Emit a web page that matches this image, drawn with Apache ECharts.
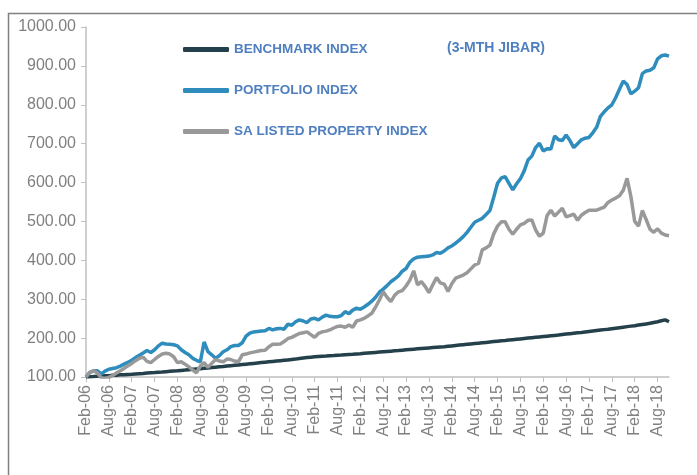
<!DOCTYPE html>
<html><head><meta charset="utf-8">
<script src="https://cdn.jsdelivr.net/npm/echarts@6/dist/echarts.min.js"></script>
<style>html,body{margin:0;padding:0;background:#fff}#c{width:697px;height:475px}</style>
</head><body><div id="c"></div>
<script>
const categories = [
'Feb-06','Mar-06','Apr-06','May-06','Jun-06','Jul-06','Aug-06','Sep-06','Oct-06','Nov-06','Dec-06',
'Jan-07','Feb-07','Mar-07','Apr-07','May-07','Jun-07','Jul-07','Aug-07','Sep-07','Oct-07','Nov-07','Dec-07',
'Jan-08','Feb-08','Mar-08','Apr-08','May-08','Jun-08','Jul-08','Aug-08','Sep-08','Oct-08','Nov-08','Dec-08',
'Jan-09','Feb-09','Mar-09','Apr-09','May-09','Jun-09','Jul-09','Aug-09','Sep-09','Oct-09','Nov-09','Dec-09',
'Jan-10','Feb-10','Mar-10','Apr-10','May-10','Jun-10','Jul-10','Aug-10','Sep-10','Oct-10','Nov-10','Dec-10',
'Jan-11','Feb-11','Mar-11','Apr-11','May-11','Jun-11','Jul-11','Aug-11','Sep-11','Oct-11','Nov-11','Dec-11',
'Jan-12','Feb-12','Mar-12','Apr-12','May-12','Jun-12','Jul-12','Aug-12','Sep-12','Oct-12','Nov-12','Dec-12',
'Jan-13','Feb-13','Mar-13','Apr-13','May-13','Jun-13','Jul-13','Aug-13','Sep-13','Oct-13','Nov-13','Dec-13',
'Jan-14','Feb-14','Mar-14','Apr-14','May-14','Jun-14','Jul-14','Aug-14','Sep-14','Oct-14','Nov-14','Dec-14',
'Jan-15','Feb-15','Mar-15','Apr-15','May-15','Jun-15','Jul-15','Aug-15','Sep-15','Oct-15','Nov-15','Dec-15',
'Jan-16','Feb-16','Mar-16','Apr-16','May-16','Jun-16','Jul-16','Aug-16','Sep-16','Oct-16','Nov-16','Dec-16',
'Jan-17','Feb-17','Mar-17','Apr-17','May-17','Jun-17','Jul-17','Aug-17','Sep-17','Oct-17','Nov-17','Dec-17',
'Jan-18','Feb-18','Mar-18','Apr-18','May-18','Jun-18','Jul-18','Aug-18','Sep-18','Oct-18','Nov-18'
];
const benchmarkIndex = [
100,100.5,101,101.8,102.3,103,103.5,104.2,104.8,105.5,106,
106.6,107,107.8,108.5,109.2,110,110.8,111.5,112.3,113,113.8,114.6,
115.3,116,117,117.8,118.8,119.7,120.6,121.5,122.5,123.4,124.3,125.2,
126.1,127,128,129,130,131,132,133,134,135,136,137,
138,139,140,141,142,143,144,145,146,147.5,149,150,
151,152,152.7,153.4,154,154.7,155.3,156,156.6,157.3,158,158.6,
159.3,160,160.8,161.6,162.4,163.2,164,164.8,165.6,166.4,167.2,168,
169,170,170.8,171.6,172.4,173.2,174,174.8,175.6,176.4,177.2,178,
179,180,181,182,183,184,185,186,187,188,189,190,
191,192,193,194,195,196,197,198,199,200,201,202,
203,204,205,206,207,208,209.5,210.5,211.5,212.5,213.5,214.5,
215.8,217,218.2,219.4,220.6,221.8,223,224.3,225.6,226.9,228.2,229.5,
230.8,232,233.5,235,236.5,238,240,242,244.5,247,242
];
const portfolioIndex = [
100,112,116,116,108,115,120,122,124,128,133,
138,143,150,156,162,168,163,170,180,187,185,184,
183,180,170,163,157,148,143,139,190,165,157,148,
155,165,170,178,181,181,188,205,213,216,217,218,
219,225,221,224,225,223,236,233,242,247,244,240,
249,251,247,254,259,256,255,255,258,268,263,272,
277,274,280,287,295,305,318,326,335,345,352,360,
372,379,395,404,408,409,410,411,414,420,418,424,
432,437,444,452,461,472,485,498,503,508,518,528,
562,598,612,615,598,581,597,610,630,658,668,690,
701,681,687,686,720,710,708,722,708,690,700,710,
714,716,728,742,770,782,792,800,818,840,861,852,
828,835,844,880,887,889,895,918,926,928,925
];
const propertyIndex = [
100,112,116,110,98,97,99,104,110,116,122,
129,135,142,148,151,140,137,145,153,159,161,159,
152,137,139,133,126,118,111,128,137,125,135,145,
141,139,146,145,141,139,157,159,162,164,166,168,
169,178,184,184,185,191,199,202,207,212,214,216,
209,202,212,216,218,221,226,230,231,228,234,228,
244,247,251,257,264,280,298,319,305,294,310,319,
322,334,349,373,337,345,333,317,337,356,342,339,
320,340,354,358,362,368,378,388,392,427,432,439,
468,488,499,499,480,467,480,491,495,503,504,478,
462,470,515,529,514,524,534,512,515,519,503,516,
523,529,529,529,533,537,549,555,560,566,580,611,
564,500,488,528,505,480,472,481,470,465,463
];
const seriesNames = ['BENCHMARK INDEX','PORTFOLIO INDEX','SA LISTED PROPERTY INDEX'];
const seriesColors = ['#24404b','#2e8dbd','#999999'];

const chart = echarts.init(document.getElementById('c'), null, {renderer:'canvas'});
const fontFam = 'Liberation Sans, Arial, sans-serif';
chart.setOption({
  animation:false,
  backgroundColor:'#ffffff',
  grid:{left:86,right:28,top:27,bottom:98,containLabel:false},
  graphic:[
    {type:'rect',shape:{x:8.5,y:13.5,width:720,height:500},style:{fill:'none',stroke:'#808080',lineWidth:1.5},silent:true},
    {type:'text',left:447,top:41,style:{text:'(3-MTH JIBAR)',fill:'#4f7fbf',font:'bold 14px '+fontFam}}
  ],
  legend:{
    orient:'vertical',left:183,top:41,padding:0,
    itemWidth:46,itemHeight:5,itemGap:24,icon:'roundRect',
    textStyle:{color:'#4f7fbf',fontWeight:'bold',fontSize:13.5,fontFamily:fontFam,lineHeight:17},
    data:seriesNames
  },
  xAxis:{
    type:'category',data:categories,boundaryGap:false,
    axisLine:{lineStyle:{color:'#bfbfbf',width:1.5}},
    axisTick:{interval:5,length:5,lineStyle:{color:'#bfbfbf'}},
    axisLabel:{interval:5,rotate:90,margin:8,color:'#808080',fontSize:16,fontFamily:fontFam},
    splitLine:{show:false}
  },
  yAxis:{
    type:'value',min:100,max:1000,interval:100,
    axisLine:{show:true,lineStyle:{color:'#bfbfbf',width:1.5}},
    axisTick:{show:true,length:5,lineStyle:{color:'#bfbfbf'}},
    axisLabel:{margin:10,color:'#808080',fontSize:16,fontFamily:fontFam,formatter:v=>v.toFixed(2)},
    splitLine:{show:false}
  },
  series:[
    {name:seriesNames[0],type:'line',data:benchmarkIndex,showSymbol:false,color:seriesColors[0],lineStyle:{width:3.5,color:seriesColors[0]}},
    {name:seriesNames[1],type:'line',data:portfolioIndex,showSymbol:false,color:seriesColors[1],lineStyle:{width:3.5,color:seriesColors[1]}},
    {name:seriesNames[2],type:'line',data:propertyIndex,showSymbol:false,color:seriesColors[2],lineStyle:{width:3.5,color:seriesColors[2]}}
  ]
});
</script></body></html>
